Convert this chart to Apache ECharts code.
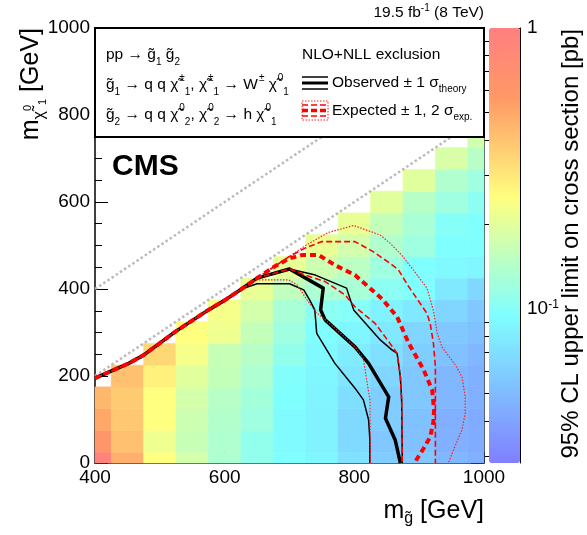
<!DOCTYPE html>
<html><head><meta charset="utf-8">
<script src="https://cdn.jsdelivr.net/npm/echarts@6/dist/echarts.min.js"></script>
<style>html,body{margin:0;padding:0;background:#fff}#c{width:587px;height:535px}</style>
</head><body><div id="c"></div>
<script>
// ---- data ----
const gluinoMass = [400,450,500,550,600,650,700,750,800,850,900,950,1000];
const lspMass = [0,50,100,150,200,250,300,350,400,450,500,550,600,650,700,750];
const lim400 = [0.95,0.62,0.50,0.45];
const lim450 = [0.47,0.41,0.39,0.38,0.41];
const lim500 = [0.25,0.22,0.25,0.25,0.28,0.34];
const lim550 = [0.18,0.165,0.17,0.18,0.20,0.23,0.25];
const lim600 = [0.135,0.137,0.14,0.145,0.16,0.165,0.22,0.23];
const lim650 = [0.11,0.11,0.12,0.125,0.135,0.145,0.16,0.18,0.21];
const lim700 = [0.095,0.092,0.092,0.095,0.097,0.11,0.12,0.13,0.155,0.21];
const lim750 = [0.088,0.085,0.085,0.086,0.088,0.09,0.095,0.105,0.135,0.17,0.21];
const lim800 = [0.072,0.066,0.066,0.07,0.075,0.08,0.088,0.1,0.13,0.15,0.175,0.21];
const lim850 = [0.06,0.056,0.06,0.06,0.064,0.071,0.077,0.085,0.105,0.12,0.138,0.16,0.2];
const lim900 = [0.056,0.053,0.053,0.056,0.056,0.06,0.064,0.077,0.095,0.095,0.12,0.13,0.145,0.2];
const lim950 = [0.048,0.045,0.045,0.048,0.048,0.053,0.056,0.064,0.077,0.09,0.095,0.1,0.12,0.138,0.185];
const lim1000 = [0.045,0.043,0.043,0.045,0.045,0.048,0.053,0.056,0.065,0.088,0.095,0.095,0.105,0.12,0.145,0.175];
const limitColumns = [lim400,lim450,lim500,lim550,lim600,lim650,lim700,lim750,lim800,lim850,lim900,lim950,lim1000];
const cellSize = 50;
const zMin = 0.0283, zMax = 1;
const xTicks = [400,600,800,1000];
const yTicks = [0,200,400,600,800,1000];

// kinematic reference lines
const diagEqual = [[400,400],[1000,1000]];
const diagOffset = [[400,200],[1000,800]];

// contours
const edgeLow = [[400,195],[452,229],[475,248],[524,302],[575,352],[601,375],[626,400]];
const edgeHigh = edgeLow.concat([[650,425]]);
const observed = edgeHigh.concat([[700,446],[752,402],[748,352],[755,329],[801,267],[822,229],[853,152],[848,103],[863,53],[871,0]]);
const observedPlus = edgeHigh.concat([[700,446],[740,432],[788,402],[799,352],[840,283],[858,260],[866,252],[871,198],[873,145],[874,0]]);
const observedMinus = edgeLow.concat([[650,412],[700,412],[722,398],[731,375],[739,352],[742,298],[770,229],[801,172],[814,145],[822,99],[824,53],[824,0]]);
const expected = edgeHigh.concat([[675,450],[699,470],[719,478],[745,478],[770,455],[801,432],[824,402],[843,377],[866,336],[884,275],[907,214],[920,168],[923,122],[922,95],[917,60],[907,34],[896,8],[894,0]]);
const expectedPlus1 = edgeHigh.concat([[675,450],[700,475],[724,494],[750,509],[801,509],[829,486],[855,459],[868,444],[884,405],[896,379],[912,344],[917,321],[922,275],[925,221],[925,0]]);
const expectedMinus1 = edgeHigh.concat([[700,446],[724,432],[755,417],[770,402],[786,386],[801,359],[832,321],[853,279],[866,252],[871,198],[873,145],[874,0]]);
const expectedPlus2 = edgeHigh.concat([[675,450],[700,475],[724,499],[760,530],[799,546],[840,524],[856,504],[873,478],[891,444],[912,402],[922,350],[928,298],[935,267],[956,225],[966,198],[971,153],[971,114],[966,76],[953,30],[945,0]]);
const expectedMinus2 = edgeLow.concat([[650,421],[699,421],[712,409],[727,375],[740,348],[770,310],[801,267],[814,240],[819,191],[824,145],[825,0]]);

// colour bar ticks
const cbMajor = [1, 0.1];
const cbMinor = [0.03,0.04,0.05,0.06,0.07,0.08,0.09,0.2,0.3,0.4,0.5,0.6,0.7,0.8,0.9];

// ---- palette ----
function palette(t){
  const s=[0,0.34,0.61,0.84,1], r=[0.5,0.5,1,1,1], g=[0.5,1,1,0.6,0.5], b=[1,1,0.5,0.4,0.5];
  let i=0; while(i<s.length-2 && t>s[i+1]) i++;
  const f=(t-s[i])/(s[i+1]-s[i]);
  const c=(a)=>Math.round(255*(a[i]+(a[i+1]-a[i])*f));
  return 'rgb('+c(r)+','+c(g)+','+c(b)+')';
}
const paletteColors=[]; for(let i=0;i<=100;i++) paletteColors.push(palette(i/100));

const heatData=[];
gluinoMass.forEach((mg,i)=>limitColumns[i].forEach((v,j)=>heatData.push([mg,lspMass[j],v,Math.log10(v)])));

const FF = '"Liberation Sans", Arial, "DejaVu Sans", sans-serif';
const chart = echarts.init(document.getElementById('c'), null, {renderer:'canvas'});

function lineSeries(data,color,width,type,z){
  return {type:'line',data:data,xAxisIndex:0,yAxisIndex:0,showSymbol:false,symbol:'none',silent:true,z:z,
    lineStyle:{color:color,width:width,type:type,cap:'butt',join:'round'},animation:false};
}
const ax = {color:'#000',fontSize:19,fontFamily:FF,formatter:(v)=>String(v)};
const small = (extra)=>Object.assign({fontFamily:FF,fill:'#000'},extra);

const option = {
  animation:false,
  backgroundColor:'#fff',
  grid:[{left:95,top:28,width:389,height:435,show:false},{left:489,top:28,width:31,height:435,show:false}],
  xAxis:[
    {type:'value',gridIndex:0,min:400,max:1000,interval:200,
     axisLine:{show:true,onZero:false,lineStyle:{color:'#000',width:1.5}},
     axisTick:{inside:true,length:11,lineStyle:{color:'#000',width:1}},
     minorTick:{show:true,splitNumber:4,length:6,lineStyle:{color:'#000',width:1}},
     axisLabel:Object.assign({margin:5,customValues:xTicks},ax),splitLine:{show:false}},
    {type:'value',gridIndex:1,min:0,max:1,show:false}
  ],
  yAxis:[
    {type:'value',gridIndex:0,min:0,max:1000,interval:200,
     axisLine:{show:true,onZero:false,lineStyle:{color:'#000',width:1.5}},
     axisTick:{inside:true,length:13,lineStyle:{color:'#000',width:1}},
     minorTick:{show:true,splitNumber:4,length:7,lineStyle:{color:'#000',width:1}},
     axisLabel:Object.assign({margin:5,customValues:yTicks},ax),splitLine:{show:false}},
    {type:'value',gridIndex:0,position:'right',min:0,max:1000,interval:200,
     axisLine:{show:true,onZero:false,lineStyle:{color:'#000',width:1.5}},
     axisTick:{inside:true,length:13,lineStyle:{color:'#000',width:1}},
     minorTick:{show:true,splitNumber:4,length:7,lineStyle:{color:'#000',width:1}},
     axisLabel:{show:false},splitLine:{show:false}},
    {type:'value',gridIndex:1,position:'right',min:Math.log10(zMin),max:Math.log10(zMax),
     axisLine:{show:true,onZero:false,lineStyle:{color:'#000',width:1}},
     axisTick:{inside:true,length:11,customValues:cbMajor.map(Math.log10),lineStyle:{color:'#000',width:1}},
     axisLabel:{color:'#000',fontSize:19,fontFamily:FF,margin:7,customValues:cbMajor.map(Math.log10),
       formatter:(v)=>Math.abs(v)<1e-9?'1':'10{s|'+Math.round(v)+'}',
       rich:{s:{fontSize:12,fontFamily:FF,color:'#000',verticalAlign:'top',padding:[0,0,8,0]}}},
     splitLine:{show:false}},
    {type:'value',gridIndex:1,position:'right',min:Math.log10(zMin),max:Math.log10(zMax),
     axisLine:{show:false},
     axisTick:{inside:true,length:6,customValues:cbMinor.map(Math.log10),lineStyle:{color:'#000',width:1}},
     axisLabel:{show:false},splitLine:{show:false}}
  ],
  visualMap:{type:'continuous',seriesIndex:0,dimension:3,min:Math.log10(zMin),max:Math.log10(zMax),
    calculable:false,realtime:false,left:489,top:28,padding:0,itemWidth:31,itemHeight:435,
    inRange:{color:paletteColors},text:null,hoverLink:false},
  series:[
    {type:'custom',xAxisIndex:0,yAxisIndex:0,data:heatData,encode:{x:0,y:1},z:1,silent:true,
     renderItem:function(params,api){
       const x=api.value(0), y=api.value(1), h=cellSize/2;
       const p1=api.coord([x-h,y+h]), p2=api.coord([x+h,y-h]);
       const cs=params.coordSys;
       const rect=echarts.graphic.clipRectByRect({x:p1[0],y:p1[1],width:p2[0]-p1[0],height:p2[1]-p1[1]},{x:cs.x,y:cs.y,width:cs.width,height:cs.height});
       if(!rect) return null;
       const c=api.visual('color');
       return {type:'rect',shape:rect,style:{fill:c,stroke:c,lineWidth:0.6}};
     }},
    lineSeries(diagEqual,'#bbbbbb',2.5,[2.5,2.5],3),
    lineSeries(diagOffset,'#bbbbbb',2.5,[2.5,2.5],3),
    lineSeries(observedPlus,'#000',1.5,'solid',4),
    lineSeries(observedMinus,'#000',1.5,'solid',4),
    lineSeries(observed,'#000',3.5,'solid',5),
    lineSeries(expectedPlus2,'#ff2020',1.2,[1.5,1.5],6),
    lineSeries(expectedMinus2,'#ff2020',1.2,[1.5,1.5],6),
    lineSeries(expectedPlus1,'#ff0000',1.6,[6,3],6),
    lineSeries(expectedMinus1,'#ff0000',1.6,[6,3],6),
    lineSeries(expected,'#ff0000',4,[6,4],7)
  ],
  graphic:[
    {type:'rect',z:100,shape:{x:95,y:28,width:389,height:109},style:{fill:'#fff',stroke:'#000',lineWidth:2}},
    {type:'text',z:101,x:106,y:55,style:small({text:'pp → g̃{sb|1} g̃{sb|2}',fontSize:15.5,verticalAlign:'middle',lineHeight:24,
      rich:{sb:{fontSize:10,fontFamily:FF,verticalAlign:'bottom'}}})},
    {type:'text',z:101,x:106,y:85,style:small({text:'g̃{sb|1} → q q χ̃{sp|±}{sb|1}, χ̃{sp|±}{sb|1} → W{sp|±} χ̃{sp|0}{sb|1}',fontSize:15.5,verticalAlign:'middle',lineHeight:24,
      rich:{sb:{fontSize:10,fontFamily:FF,verticalAlign:'bottom'},sp:{fontSize:10,fontFamily:FF,verticalAlign:'top',padding:[0,0,0,1]}}})},
    {type:'text',z:101,x:106,y:115,style:small({text:'g̃{sb|2} → q q χ̃{sp|0}{sb|2}, χ̃{sp|0}{sb|2} → h χ̃{sp|0}{sb|1}',fontSize:15.5,verticalAlign:'middle',lineHeight:24,
      rich:{sb:{fontSize:10,fontFamily:FF,verticalAlign:'bottom'},sp:{fontSize:10,fontFamily:FF,verticalAlign:'top',padding:[0,0,0,1]}}})},
    {type:'text',z:101,x:302,y:55,style:small({text:'NLO+NLL exclusion',fontSize:15.5,verticalAlign:'middle'})},
    {type:'text',z:101,x:332,y:83,style:small({text:'Observed ± 1 σ{sb|theory}',fontSize:15.5,verticalAlign:'middle',lineHeight:22,
      rich:{sb:{fontSize:10,fontFamily:FF,verticalAlign:'bottom'}}})},
    {type:'text',z:101,x:332,y:111,style:small({text:'Expected ± 1, 2 σ{sb|exp.}',fontSize:15.5,verticalAlign:'middle',lineHeight:22,
      rich:{sb:{fontSize:10,fontFamily:FF,verticalAlign:'bottom'}}})},
    // legend symbols
    {type:'line',z:101,shape:{x1:302,y1:77,x2:328,y2:77},style:{stroke:'#000',lineWidth:1.5}},
    {type:'line',z:101,shape:{x1:302,y1:83,x2:328,y2:83},style:{stroke:'#000',lineWidth:3}},
    {type:'line',z:101,shape:{x1:302,y1:89,x2:328,y2:89},style:{stroke:'#000',lineWidth:1.5}},
    {type:'rect',z:101,shape:{x:302,y:101,width:26,height:19},style:{fill:'none',stroke:'#ff2020',lineWidth:1,lineDash:[1.5,1.5]}},
    {type:'line',z:101,shape:{x1:302,y1:105,x2:328,y2:105},style:{stroke:'#f00',lineWidth:1.5,lineDash:[6,3]}},
    {type:'line',z:101,shape:{x1:302,y1:110.5,x2:328,y2:110.5},style:{stroke:'#f00',lineWidth:3.5,lineDash:[6,3]}},
    {type:'line',z:101,shape:{x1:302,y1:116,x2:328,y2:116},style:{stroke:'#f00',lineWidth:1.5,lineDash:[6,3]}},
    // CMS
    {type:'text',z:101,x:112,y:167,style:small({text:'CMS',fontSize:30,fontWeight:'bold',verticalAlign:'middle'})},
    // lumi
    {type:'text',z:101,x:484,y:13,style:small({text:'19.5 fb{sp|-1} (8 TeV)',fontSize:15.5,align:'right',verticalAlign:'middle',lineHeight:20,
      rich:{sp:{fontSize:10,fontFamily:FF,verticalAlign:'top'}}})},
    // axis titles
    {type:'text',z:101,x:484,y:511,style:small({text:'m{sb|g̃} [GeV]',fontSize:25,align:'right',verticalAlign:'middle',lineHeight:32,
      rich:{sb:{fontSize:16,fontFamily:FF,verticalAlign:'bottom'}}})},
    {type:'text',z:101,x:31,y:28,rotation:Math.PI/2,style:small({text:'m{sb|χ̃}{sp|0}{sb2|1} [GeV]',fontSize:25,align:'right',verticalAlign:'middle',lineHeight:34,
      rich:{sb:{fontSize:16,fontFamily:FF,verticalAlign:'bottom'},sp:{fontSize:11,fontFamily:FF,verticalAlign:'middle',padding:[0,0,6,0]},sb2:{fontSize:11,fontFamily:FF,verticalAlign:'bottom'}}})},
    {type:'text',z:101,x:571,y:29,rotation:Math.PI/2,style:small({text:'95% CL upper limit on cross section [pb]',fontSize:24,align:'right',verticalAlign:'middle'})}
  ]
};
chart.setOption(option);
</script></body></html>
